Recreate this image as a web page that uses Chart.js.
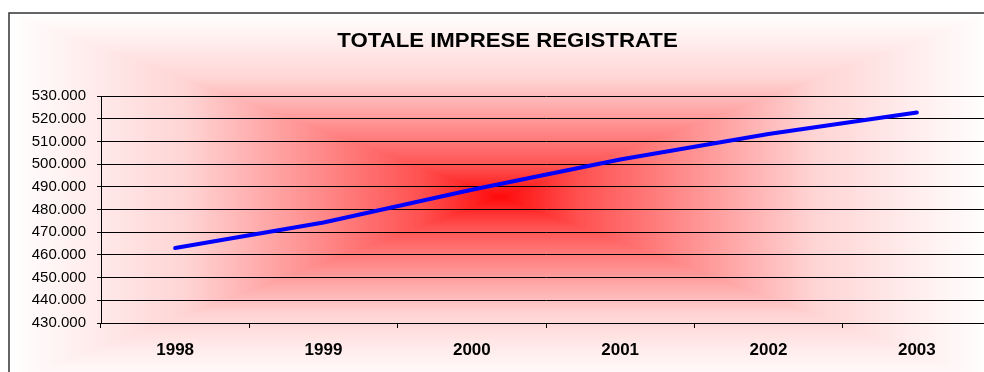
<!DOCTYPE html>
<html>
<head>
<meta charset="utf-8">
<script src="https://cdn.jsdelivr.net/npm/chart.js@4.4.1/dist/chart.umd.min.js"></script>
<style>
  html, body { margin: 0; padding: 0; background: #fff; overflow: hidden; }
  canvas { position: absolute; left: 0; top: 0; }
</style>
</head>
<body>
<canvas id="c" width="1000" height="390"></canvas>
<script>
// Registered companies per year
const chartTitle = 'TOTALE IMPRESE REGISTRATE';
const years = ['1998', '1999', '2000', '2001', '2002', '2003'];
const imprese = [463000, 474300, 488700, 502000, 513300, 522700];
const yMin = 430000;
const yMax = 530000;
const yStep = 10000;

const FONT = '"Liberation Sans", Arial, Helvetica, sans-serif';

// Chart frame (extends past the visible window on the right and bottom)
const frame = { left: 9, top: 13, right: 991, bottom: 381 };

// Red-to-white ramp for the rectangular "from centre" fill: [distance, green/blue level]
const shadeStops = [[0, 10], [0.16, 80], [0.41, 150], [0.64, 212], [0.85, 238], [1, 255]];

function shade(t) {
  if (t <= 0) return shadeStops[0][1];
  for (let i = 1; i < shadeStops.length; i++) {
    const [t1, v1] = shadeStops[i];
    const [t0, v0] = shadeStops[i - 1];
    if (t <= t1) return v0 + (v1 - v0) * (t - t0) / (t1 - t0);
  }
  return 255;
}

function thousands(v) {
  return String(v).replace(/\B(?=(\d{3})+(?!\d))/g, '.');
}

const backdrop = {
  id: 'backdrop',
  beforeDraw(chart) {
    const ctx = chart.ctx;
    const w = frame.right - frame.left;
    const h = frame.bottom - frame.top;
    const img = ctx.createImageData(w, h);
    const hw = w / 2, hh = h / 2;
    for (let y = 0; y < h; y++) {
      const dy = Math.abs(y + 0.5 - hh) / hh;
      for (let x = 0; x < w; x++) {
        const dx = Math.abs(x + 0.5 - hw) / hw;
        const v = shade(Math.max(dx, dy));
        const i = (y * w + x) * 4;
        img.data[i] = 255;
        img.data[i + 1] = v;
        img.data[i + 2] = v;
        img.data[i + 3] = 255;
      }
    }
    ctx.putImageData(img, frame.left, frame.top);
    ctx.save();
    ctx.strokeStyle = '#333';
    ctx.lineWidth = 1.5;
    ctx.strokeRect(frame.left, frame.top, w, h);
    ctx.restore();
  },
  afterDraw(chart) {
    const ctx = chart.ctx;
    ctx.save();
    ctx.translate(507.5, 47);
    ctx.scale(1.11, 1);
    ctx.font = 'bold 20px ' + FONT;
    ctx.fillStyle = '#000';
    ctx.textAlign = 'center';
    ctx.textBaseline = 'alphabetic';
    ctx.fillText(chartTitle, 0, 0);
    ctx.restore();
  }
};

new Chart(document.getElementById('c'), {
  type: 'line',
  data: {
    labels: years,
    datasets: [{
      label: chartTitle,
      data: imprese,
      borderColor: '#0000ff',
      borderWidth: 4,
      borderCapStyle: 'round',
      borderJoinStyle: 'round',
      pointRadius: 0,
      pointHoverRadius: 0,
      tension: 0,
      fill: false
    }]
  },
  options: {
    responsive: false,
    animation: false,
    devicePixelRatio: 1,
    layout: { padding: { left: 0, top: 96, right: 9, bottom: 0 } },
    plugins: {
      legend: { display: false },
      title: { display: false },
      tooltip: { enabled: false }
    },
    scales: {
      x: {
        type: 'category',
        offset: true,
        grid: {
          display: true,
          drawOnChartArea: false,
          drawTicks: true,
          tickLength: 5,
          offset: true,
          color: '#000',
          lineWidth: 1
        },
        border: { display: true, color: '#000', width: 1 },
        ticks: {
          color: '#000',
          font: { family: FONT, size: 17, weight: 'bold' },
          padding: 12,
          maxRotation: 0,
          autoSkip: false
        },
        afterFit(s) { s.height = 67; }
      },
      y: {
        min: yMin,
        max: yMax,
        grid: {
          color: '#000',
          lineWidth: 1,
          tickLength: 4,
          drawTicks: true
        },
        border: { display: true, color: '#000', width: 1 },
        ticks: {
          stepSize: yStep,
          color: '#000',
          font: { family: FONT, size: 15 },
          padding: 11,
          callback: (v) => thousands(v)
        },
        afterFit(s) { s.width = 101; }
      }
    }
  },
  plugins: [backdrop]
});
</script>
</body>
</html>
